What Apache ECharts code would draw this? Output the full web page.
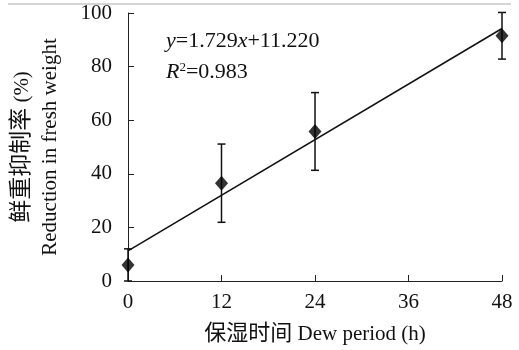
<!DOCTYPE html>
<html>
<head>
<meta charset="utf-8">
<script src="https://cdn.jsdelivr.net/npm/echarts@6/dist/echarts.min.js"></script>
<style>
  html, body { margin: 0; padding: 0; background: #fff; }
  #chart { width: 519px; height: 350px; }
</style>
</head>
<body>
<div id="chart"></div>
<script>
// dew period (h) and reduction in fresh weight (%)
const dewHours = [0, 12, 24, 48]
const meanValues = [6.0, 36.5, 55.8, 91.5]
const errValues = [6.0, 14.6, 14.5, 8.7]

// fitted line y = 1.729x + 11.220, end points
const fitX = [0, 48]
const fitY = [11.22, 94.21]

const xTicks = [0, 12, 24, 36, 48]
const yTicks = [0, 20, 40, 60, 80, 100]

const serif = 'Liberation Serif, "Times New Roman", "Noto Sans CJK SC", serif'

const chartDom = document.getElementById('chart')
const myChart = echarts.init(chartDom)

const errorData = dewHours.map((x, i) => [x, meanValues[i] - errValues[i], meanValues[i] + errValues[i]])

const option = {
  animation: false,
  backgroundColor: '#fff',
  grid: { left: 123, right: 17, top: 13, bottom: 67 },
  xAxis: {
    type: 'value',
    min: xTicks[0],
    max: xTicks[xTicks.length - 1],
    interval: 12,
    name: '{cn|保湿时间} Dew period (h)',
    nameLocation: 'middle',
    nameGap: 42,
    nameTextStyle: {
      fontFamily: serif,
      fontSize: 21,
      color: '#111',
      rich: { cn: { fontFamily: serif, fontSize: 22, color: '#111' } },
    },
    axisLine: { lineStyle: { color: '#222', width: 1 } },
    axisTick: { inside: true, length: 6, lineStyle: { color: '#222' } },
    axisLabel: { fontFamily: serif, fontSize: 21, color: '#111', margin: 11 },
    splitLine: { show: false },
  },
  yAxis: {
    type: 'value',
    min: yTicks[0],
    max: yTicks[yTicks.length - 1],
    interval: 20,
    name: '{cn|鲜重抑制率} (%)\nReduction in fresh weight',
    nameLocation: 'middle',
    nameGap: 64,
    nameTextStyle: {
      fontFamily: serif,
      fontSize: 21,
      color: '#111',
      lineHeight: 28,
      rich: { cn: { fontFamily: serif, fontSize: 23, color: '#111', lineHeight: 28 } },
    },
    axisLine: { show: true, lineStyle: { color: '#222', width: 1 } },
    axisTick: { show: true, inside: true, length: 6, lineStyle: { color: '#222' } },
    axisLabel: { fontFamily: serif, fontSize: 21, color: '#111', margin: 16 },
    splitLine: { show: false },
  },
  graphic: [
    {
      type: 'line',
      shape: { x1: 8, y1: 4, x2: 511, y2: 4 },
      style: { stroke: '#aaa', lineWidth: 1 },
    },
    {
      type: 'text',
      left: 166,
      top: 30,
      style: {
        text: '{i|y}=1.729{i|x}+11.220',
        fontFamily: serif,
        fontSize: 22,
        fill: '#111',
        rich: { i: { fontFamily: serif, fontSize: 22, fontStyle: 'italic', fill: '#111' } },
      },
    },
    {
      type: 'text',
      left: 166,
      top: 61,
      style: {
        text: '{i|R}{s|2}=0.983',
        fontFamily: serif,
        fontSize: 22,
        fill: '#111',
        rich: {
          i: { fontFamily: serif, fontSize: 22, fontStyle: 'italic', fill: '#111' },
          s: { fontFamily: serif, fontSize: 13, fill: '#111', verticalAlign: 'top', padding: [0, 0, 9, 0] },
        },
      },
    },
  ],
  series: [
    {
      type: 'line',
      data: fitX.map((x, i) => [x, fitY[i]]),
      symbol: 'none',
      lineStyle: { color: '#111', width: 1.5 },
      z: 2,
    },
    {
      type: 'custom',
      data: errorData,
      renderItem(params, api) {
        const x = api.value(0)
        const lo = api.coord([x, api.value(1)])
        const hi = api.coord([x, api.value(2)])
        const cap = 4
        const style = { stroke: '#111', lineWidth: 1.5 }
        return {
          type: 'group',
          children: [
            { type: 'line', shape: { x1: lo[0], y1: lo[1], x2: hi[0], y2: hi[1] }, style },
            { type: 'line', shape: { x1: hi[0] - cap, y1: hi[1], x2: hi[0] + cap, y2: hi[1] }, style },
            { type: 'line', shape: { x1: lo[0] - cap, y1: lo[1], x2: lo[0] + cap, y2: lo[1] }, style },
          ],
        }
      },
      z: 3,
    },
    {
      type: 'scatter',
      data: dewHours.map((x, i) => [x, meanValues[i]]),
      symbol: 'diamond',
      symbolSize: [13, 15],
      itemStyle: { color: '#000' },
      z: 4,
    },
  ],
}

myChart.setOption(option)
</script>
</body>
</html>
